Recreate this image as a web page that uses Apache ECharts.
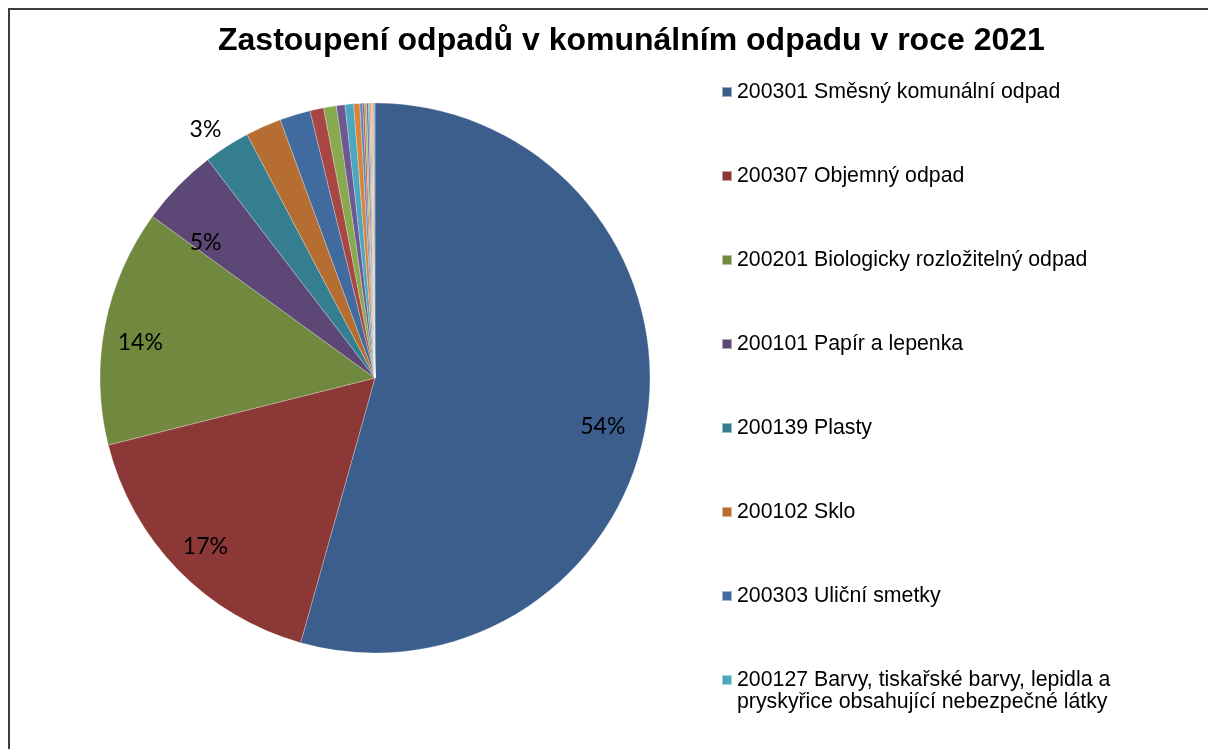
<!DOCTYPE html>
<html>
<head>
<meta charset="utf-8">
<title>Zastoupení odpadů v komunálním odpadu v roce 2021</title>
<script src="https://cdn.jsdelivr.net/npm/echarts@6/dist/echarts.min.js"></script>
<style>
  html, body { margin: 0; padding: 0; background: #fff; }
  #chart { width: 1208px; height: 749px; }
</style>
</head>
<body>
<div id="chart"></div>
<script>
// kategorie odpadu (podíl v %)
const wasteNames = [
  '200301 Směsný komunální odpad',
  '200307 Objemný odpad',
  '200201 Biologicky rozložitelný odpad',
  '200101 Papír a lepenka',
  '200139 Plasty',
  '200102 Sklo',
  '200303 Uliční smetky',
  'Ostatní 8',
  'Ostatní 9',
  'Ostatní 10',
  '200127 Barvy, tiskařské barvy, lepidla a pryskyřice obsahující nebezpečné látky',
  'Ostatní 12',
  'Ostatní 13',
  'Ostatní 14',
  'Ostatní 15',
  'Ostatní 16',
  'Ostatní 17',
  'Ostatní 18',
  'Ostatní 19',
  'Ostatní 20'
];
const wasteShares = [54.3, 16.7, 13.9, 4.6, 2.7, 2.1, 1.8, 0.8, 0.75, 0.5,
  0.5, 0.36, 0.17, 0.11, 0.11, 0.11, 0.08, 0.08, 0.11, 0.11];
const sliceColors = ['#3b5e8c', '#8c3836', '#71893f', '#5c4776', '#357e8f', '#b66d31',
  '#416b9e', '#a84643', '#88a94e', '#6e5892', '#4ba7bf', '#d8843a',
  '#5b87c0', '#c0504d', '#9bbb59', '#8064a2', '#4bacc6', '#f79646', '#f0b48a', '#95b3d7'];
// položky zobrazené v legendě
const legendNames = [0, 1, 2, 3, 4, 5, 6, 10].map(i => wasteNames[i]);
// dlouhý název v legendě se zalamuje (druhý řádek zvlášť)
const longName = wasteNames[10];
const longNameLine1 = '200127 Barvy, tiskařské barvy, lepidla a';
const longNameLine2 = 'pryskyřice obsahující nebezpečné látky';
// popisky jen u větších výsečí
const insideLabelIdx = [0, 1, 2, 3];
const outsideLabelIdx = [4];
// posun popisků podle originálu
const labelOffsets = { 0: [-8, 16], 1: [1, 3], 2: [-1, 10], 3: [1, 31], 4: [7, -5] };

const chart = echarts.init(document.getElementById('chart'));

const pieData = wasteNames.map((name, i) => ({
  name: name,
  value: wasteShares[i],
  itemStyle: { color: sliceColors[i] },
  label: outsideLabelIdx.includes(i) ? { offset: labelOffsets[i] } : {}
}));

const labelData = wasteNames.map((name, i) => ({
  name: name,
  value: wasteShares[i],
  label: insideLabelIdx.includes(i) ? { offset: labelOffsets[i] } : {}
}));

const legendFont = { fontFamily: 'Liberation Sans', fontSize: 21.3, lineHeight: 24, color: '#000' };

const option = {
  animation: false,
  title: {
    text: 'Zastoupení odpadů v komunálním odpadu v roce 2021',
    left: 213,
    top: 20,
    textStyle: { fontFamily: 'Liberation Sans', fontSize: 32, fontWeight: 'bold', color: '#000' }
  },
  legend: {
    orient: 'vertical',
    left: 716,
    top: 75,
    height: 700,
    data: legendNames,
    itemWidth: 10,
    itemHeight: 10,
    itemGap: 60,
    icon: 'rect',
    selectedMode: false,
    textStyle: legendFont,
    formatter: name => name === longName ? longNameLine1 : name
  },
  graphic: [
    {
      type: 'rect',
      shape: { x: 9, y: 9, width: 1400, height: 1000 },
      style: { fill: 'none', stroke: '#3c3c3c', lineWidth: 2 },
      silent: true
    },
    {
      type: 'text',
      x: 737,
      y: 702,
      silent: true,
      style: {
        text: longNameLine2,
        fill: '#000',
        font: '21.3px "Liberation Sans"',
        verticalAlign: 'middle'
      }
    }
  ],
  series: [
    {
      name: 'Odpady',
      type: 'pie',
      center: [375, 378],
      radius: [0, 275],
      startAngle: 90,
      clockwise: true,
      avoidLabelOverlap: false,
      itemStyle: { borderColor: 'rgba(255,255,255,0.5)', borderWidth: 0.5 },
      label: {
        show: true,
        position: 'outside',
        formatter: p => outsideLabelIdx.includes(p.dataIndex) ? Math.round(p.percent) + '%' : '',
        fontFamily: 'Lato',
        fontSize: 23,
        color: '#000'
      },
      labelLine: { show: false, length: 14, length2: 0 },
      data: pieData
    },
    {
      // průhledná vrstva pro popisky uvnitř u okraje
      name: 'Popisky',
      type: 'pie',
      center: [375, 378],
      radius: [195, 275],
      startAngle: 90,
      clockwise: true,
      silent: true,
      avoidLabelOverlap: false,
      itemStyle: { color: 'rgba(0,0,0,0)' },
      label: {
        show: true,
        position: 'inside',
        formatter: p => insideLabelIdx.includes(p.dataIndex) ? Math.round(p.percent) + '%' : '',
        fontFamily: 'Lato',
        fontSize: 23,
        color: '#000'
      },
      labelLine: { show: false },
      data: labelData
    }
  ]
};

chart.setOption(option);
</script>
</body>
</html>
